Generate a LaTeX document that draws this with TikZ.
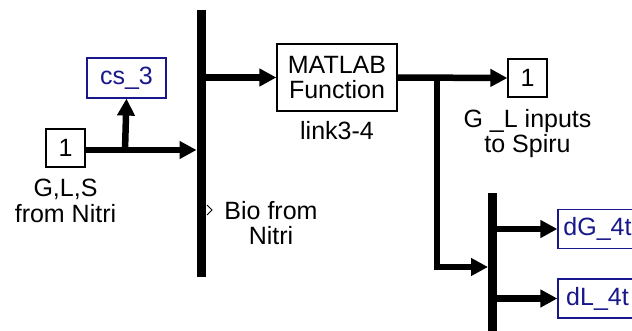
\documentclass[tikz,border=0pt]{standalone}
\usepackage{fontspec}
\setmainfont{Liberation Sans}
\usetikzlibrary{arrows.meta}
\definecolor{tagblue}{RGB}{24,24,140}
\begin{document}
\begin{tikzpicture}[x=1pt,y=1pt,
  every node/.style={font=\fontsize{25}{25.5}\selectfont},
  blk/.style={draw, line width=1.2pt, inner sep=0pt, fill=white},
  gto/.style={draw=tagblue, text=tagblue, line width=1.2pt, inner sep=0pt, fill=white},
  muxbar/.style={fill=black, inner sep=0pt, minimum width=9.5pt},
  wire/.style={line width=6.5pt},
  sig/.style={line width=6.5pt, -{Triangle[length=17pt,width=17pt]}},
  lbl/.style={align=center, inner sep=0pt}]
\useasboundingbox (0,0) rectangle (632,-331);
% blocks
\node[blk, minimum width=39pt, minimum height=38pt] (in1) at (65.5,-148) {1};
\node[gto, minimum width=79pt, minimum height=40pt] (cs3) at (126.5,-78) {cs\_3};
\node[muxbar, minimum height=267pt] (mux1) at (201.5,-143.5) {};
\node[blk, minimum width=120pt, minimum height=67pt, align=center] (mat) at (337,-77.5) {MATLAB\\[-1pt]Function};
\node[blk, minimum width=39pt, minimum height=38pt] (out1) at (527.5,-78) {1};
\node[muxbar, minimum height=142pt] (mux2) at (492.5,-264) {};
\node[gto, minimum width=79pt, minimum height=39pt] (dG) at (597.5,-229) {dG\_4t};
\node[gto, minimum width=79pt, minimum height=39pt] (dL) at (597.5,-298.5) {dL\_4t};
% labels
\node[lbl, anchor=north] (lin) at (65.5,-179) {G,L,S\\from Nitri};
\node[lbl, anchor=north] (lmat) at (337,-121) {link3-4};
\node[lbl, anchor=north] (lout) at (527.5,-109) {G \_L inputs\\to Spiru};
\node[lbl, anchor=north] (lbio) at (271,-201) {Bio from\\Nitri};
% port triangle on mux1
\draw[line width=0.8pt] (207,-205) -- (212,-210) -- (207,-215);
% connectors
\coordinate (b1) at (125,-150);
\coordinate (b2) at (437,-78);
\coordinate (m2in) at (488,-267);
\draw[sig] (in1.east |- b1) -- (b1 -| mux1.west);
\draw[sig] (b1) -- (cs3.south);
\draw[sig] (mux1.east |- mat.west) -- (mat.west);
\draw[sig] (mat.east) -- (out1.west);
\draw[sig] (b2) |- (m2in);
\draw[sig] (mux2.east |- dG.west) -- (dG.west);
\draw[sig] (mux2.east |- dL.west) -- (dL.west);
\end{tikzpicture}
\end{document}
